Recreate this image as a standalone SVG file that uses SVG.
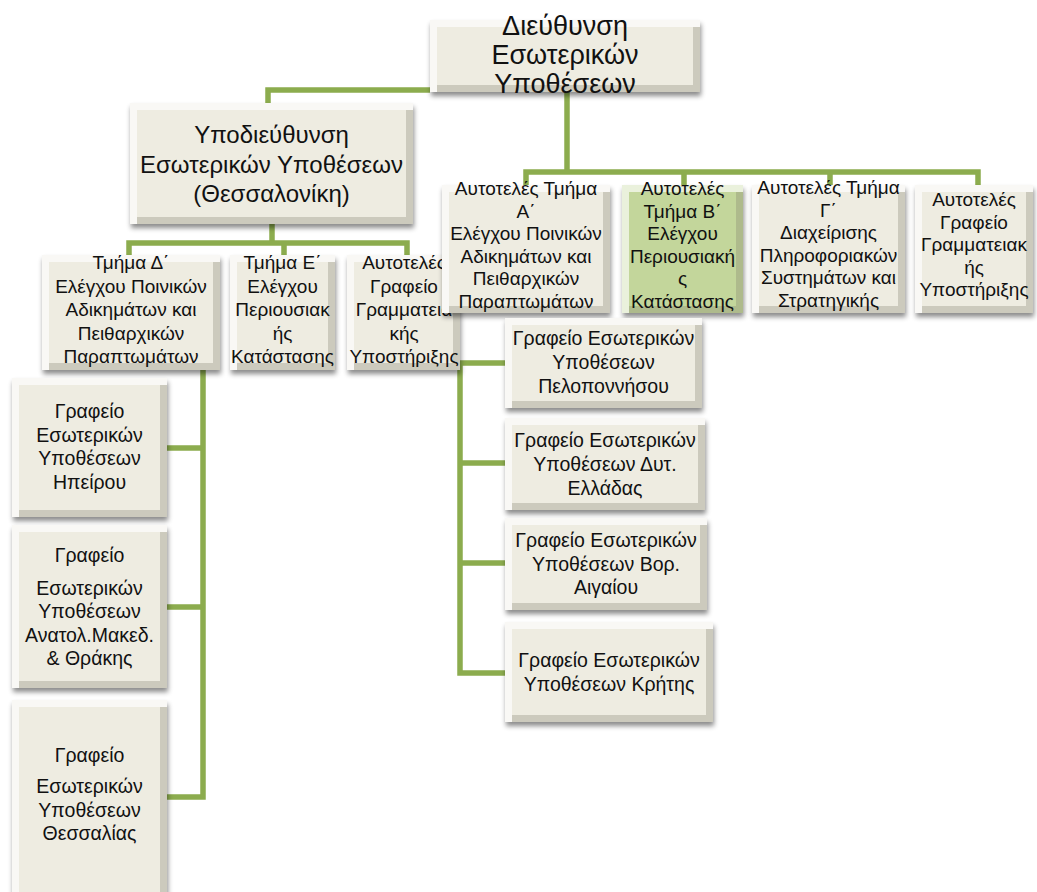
<svg xmlns="http://www.w3.org/2000/svg" width="1037" height="892" viewBox="0 0 1037 892">
  <style>
    .box { fill: #eeece1; filter: url(#bevel); }
    .box.hl { fill: #c3d69b; }
    .t { font-family: "Liberation Sans", "DejaVu Sans", sans-serif; font-size: 19px; fill: #111; text-anchor: middle; }
    .t.off { font-size: 19.5px; }
    .t.big { font-size: 27px; }
    .t.mid { font-size: 24px; }
    .link { fill: none; stroke: #8cac4e; stroke-width: 5.5; stroke-linejoin: miter; stroke-linecap: butt; }
  </style>
  <defs>
    <!-- raised bevel: light top/left band, darker bottom/right band, soft drop shadow -->
    <filter id="bevel" x="-10%" y="-10%" width="125%" height="135%" color-interpolation-filters="sRGB">
      <feMorphology in="SourceAlpha" operator="erode" radius="7" result="inner"/>
      <feComposite in="SourceAlpha" in2="inner" operator="out" result="ring"/>
      <feOffset in="SourceAlpha" dx="7" dy="7" result="shift"/>
      <feComposite in="ring" in2="shift" operator="out" result="tl"/>
      <feComposite in="ring" in2="shift" operator="in" result="br"/>
      <feFlood flood-color="#ffffff" flood-opacity="0.65"/>
      <feComposite in2="tl" operator="in" result="tlc"/>
      <feFlood flood-color="#7d7a6a" flood-opacity="0.3"/>
      <feComposite in2="br" operator="in" result="brc"/>
      <feGaussianBlur in="SourceAlpha" stdDeviation="2.5"/>
      <feOffset dx="1" dy="4" result="sb"/>
      <feFlood flood-color="#000000" flood-opacity="0.45"/>
      <feComposite in2="sb" operator="in" result="shadow"/>
      <feMerge>
        <feMergeNode in="shadow"/>
        <feMergeNode in="SourceGraphic"/>
        <feMergeNode in="tlc"/>
        <feMergeNode in="brc"/>
      </feMerge>
    </filter>
  </defs>

  <rect width="1037" height="892" fill="#ffffff"/>

  <!-- connectors -->
  <g id="connectors">
    <path class="link" d="M567,90 V172"/>
    <path class="link" d="M430,90 H268 V104"/>
    <path class="link" d="M526,186 V172 H978 V186 M684,172 V186 M830,172 V186"/>
    <path class="link" d="M272,224 V243"/>
    <path class="link" d="M129,256 V243 H407 V256 M284,243 V256"/>
    <path class="link" d="M203,370 V797 H166 M166,448 H203 M166,607 H203"/>
    <path class="link" d="M460,362 V673 H506 M460,363 H506 M460,463 H506 M460,563 H506"/>
  </g>

  <!-- top -->
  <g id="n-dir">
    <rect class="box" x="430" y="20" width="270" height="72"/>
    <text class="t big" x="565"><tspan x="565" y="35">Διεύθυνση</tspan><tspan x="565" y="64">Εσωτερικών</tspan><tspan x="565" y="93">Υποθέσεων</tspan></text>
  </g>

  <g id="n-sub">
    <rect class="box" x="130" y="103" width="283" height="121"/>
    <text class="t mid"><tspan x="271.5" y="143">Υποδιεύθυνση</tspan><tspan x="271.5" y="173">Εσωτερικών Υποθέσεων</tspan><tspan x="271.5" y="202">(Θεσσαλονίκη)</tspan></text>
  </g>

  <!-- second level, under the sub-directorate -->
  <g id="n-tmd">
    <rect class="box" x="42" y="255" width="178" height="115"/>
    <text class="t"><tspan x="131" y="269">Τμήμα Δ΄</tspan><tspan x="131" y="292.5">Ελέγχου Ποινικών</tspan><tspan x="131" y="316">Αδικημάτων και</tspan><tspan x="131" y="339.5">Πειθαρχικών</tspan><tspan x="131" y="363">Παραπτωμάτων</tspan></text>
  </g>

  <g id="n-tme">
    <rect class="box" x="230" y="255" width="105" height="115"/>
    <text class="t"><tspan x="282.5" y="269">Τμήμα Ε΄</tspan><tspan x="282.5" y="292.5">Ελέγχου</tspan><tspan x="282.5" y="316">Περιουσιακ</tspan><tspan x="282.5" y="339.5">ής</tspan><tspan x="282.5" y="363">Κατάστασης</tspan></text>
  </g>

  <g id="n-gram2">
    <rect class="box" x="347" y="255" width="113" height="115"/>
    <text class="t"><tspan x="404" y="269">Αυτοτελές</tspan><tspan x="404" y="292.5">Γραφείο</tspan><tspan x="404" y="316">Γραμματεια</tspan><tspan x="404" y="339.5">κής</tspan><tspan x="404" y="363">Υποστήριξης</tspan></text>
  </g>

  <!-- second level, under the directorate -->
  <g id="n-tma">
    <rect class="box" x="442" y="185" width="168" height="128"/>
    <text class="t"><tspan x="526" y="195">Αυτοτελές Τμήμα</tspan><tspan x="526" y="217.5">Α΄</tspan><tspan x="526" y="240">Ελέγχου Ποινικών</tspan><tspan x="526" y="262.5">Αδικημάτων και</tspan><tspan x="526" y="285">Πειθαρχικών</tspan><tspan x="526" y="307.5">Παραπτωμάτων</tspan></text>
  </g>

  <g id="n-tmb">
    <rect class="box hl" x="622" y="185" width="121" height="128"/>
    <text class="t"><tspan x="682.5" y="195">Αυτοτελές</tspan><tspan x="682.5" y="217.5">Τμήμα Β΄</tspan><tspan x="682.5" y="240">Ελέγχου</tspan><tspan x="682.5" y="262.5">Περιουσιακή</tspan><tspan x="682.5" y="285">ς</tspan><tspan x="682.5" y="307.5">Κατάστασης</tspan></text>
  </g>

  <g id="n-tmg">
    <rect class="box" x="752" y="185" width="153" height="128"/>
    <text class="t"><tspan x="828.5" y="194">Αυτοτελές Τμήμα</tspan><tspan x="828.5" y="216.5">Γ΄</tspan><tspan x="828.5" y="239">Διαχείρισης</tspan><tspan x="828.5" y="261.5">Πληροφοριακών</tspan><tspan x="828.5" y="284">Συστημάτων και</tspan><tspan x="828.5" y="306.5">Στρατηγικής</tspan></text>
  </g>

  <g id="n-gram1">
    <rect class="box" x="915" y="185" width="118" height="128"/>
    <text class="t"><tspan x="974" y="206">Αυτοτελές</tspan><tspan x="974" y="228.5">Γραφείο</tspan><tspan x="974" y="251">Γραμματειακ</tspan><tspan x="974" y="273.5">ής</tspan><tspan x="974" y="296">Υποστήριξης</tspan></text>
  </g>

  <!-- regional offices, right column -->
  <g id="n-pel">
    <rect class="box" x="505" y="318" width="197" height="90"/>
    <text class="t off"><tspan x="603.5" y="345">Γραφείο Εσωτερικών</tspan><tspan x="603.5" y="369">Υποθέσεων</tspan><tspan x="603.5" y="393">Πελοποννήσου</tspan></text>
  </g>

  <g id="n-dyt">
    <rect class="box" x="505" y="418" width="200" height="92"/>
    <text class="t off"><tspan x="605" y="447">Γραφείο Εσωτερικών</tspan><tspan x="605" y="471">Υποθέσεων Δυτ.</tspan><tspan x="605" y="495">Ελλάδας</tspan></text>
  </g>

  <g id="n-vor">
    <rect class="box" x="505" y="518" width="202" height="92"/>
    <text class="t off"><tspan x="606" y="547">Γραφείο Εσωτερικών</tspan><tspan x="606" y="570.5">Υποθέσεων Βορ.</tspan><tspan x="606" y="594">Αιγαίου</tspan></text>
  </g>

  <g id="n-kri">
    <rect class="box" x="505" y="622" width="208" height="100"/>
    <text class="t off"><tspan x="609" y="667">Γραφείο Εσωτερικών</tspan><tspan x="609" y="691">Υποθέσεων Κρήτης</tspan></text>
  </g>

  <!-- regional offices, left column -->
  <g id="n-ipi">
    <rect class="box" x="12" y="378" width="155" height="139"/>
    <text class="t off"><tspan x="89.5" y="418">Γραφείο</tspan><tspan x="89.5" y="441.5">Εσωτερικών</tspan><tspan x="89.5" y="465">Υποθέσεων</tspan><tspan x="89.5" y="488.5">Ηπείρου</tspan></text>
  </g>

  <g id="n-ana">
    <rect class="box" x="12" y="525" width="155" height="163"/>
    <text class="t off"><tspan x="89.5" y="562">Γραφείο</tspan><tspan x="89.5" y="595">Εσωτερικών</tspan><tspan x="89.5" y="618">Υποθέσεων</tspan><tspan x="89.5" y="641.5">Ανατολ.Μακεδ.</tspan><tspan x="89.5" y="665">&amp; Θράκης</tspan></text>
  </g>

  <g id="n-the">
    <rect class="box" x="12" y="700" width="155" height="210"/>
    <text class="t off"><tspan x="89.5" y="762">Γραφείο</tspan><tspan x="89.5" y="793">Εσωτερικών</tspan><tspan x="89.5" y="816.5">Υποθέσεων</tspan><tspan x="89.5" y="840">Θεσσαλίας</tspan></text>
  </g>
</svg>
